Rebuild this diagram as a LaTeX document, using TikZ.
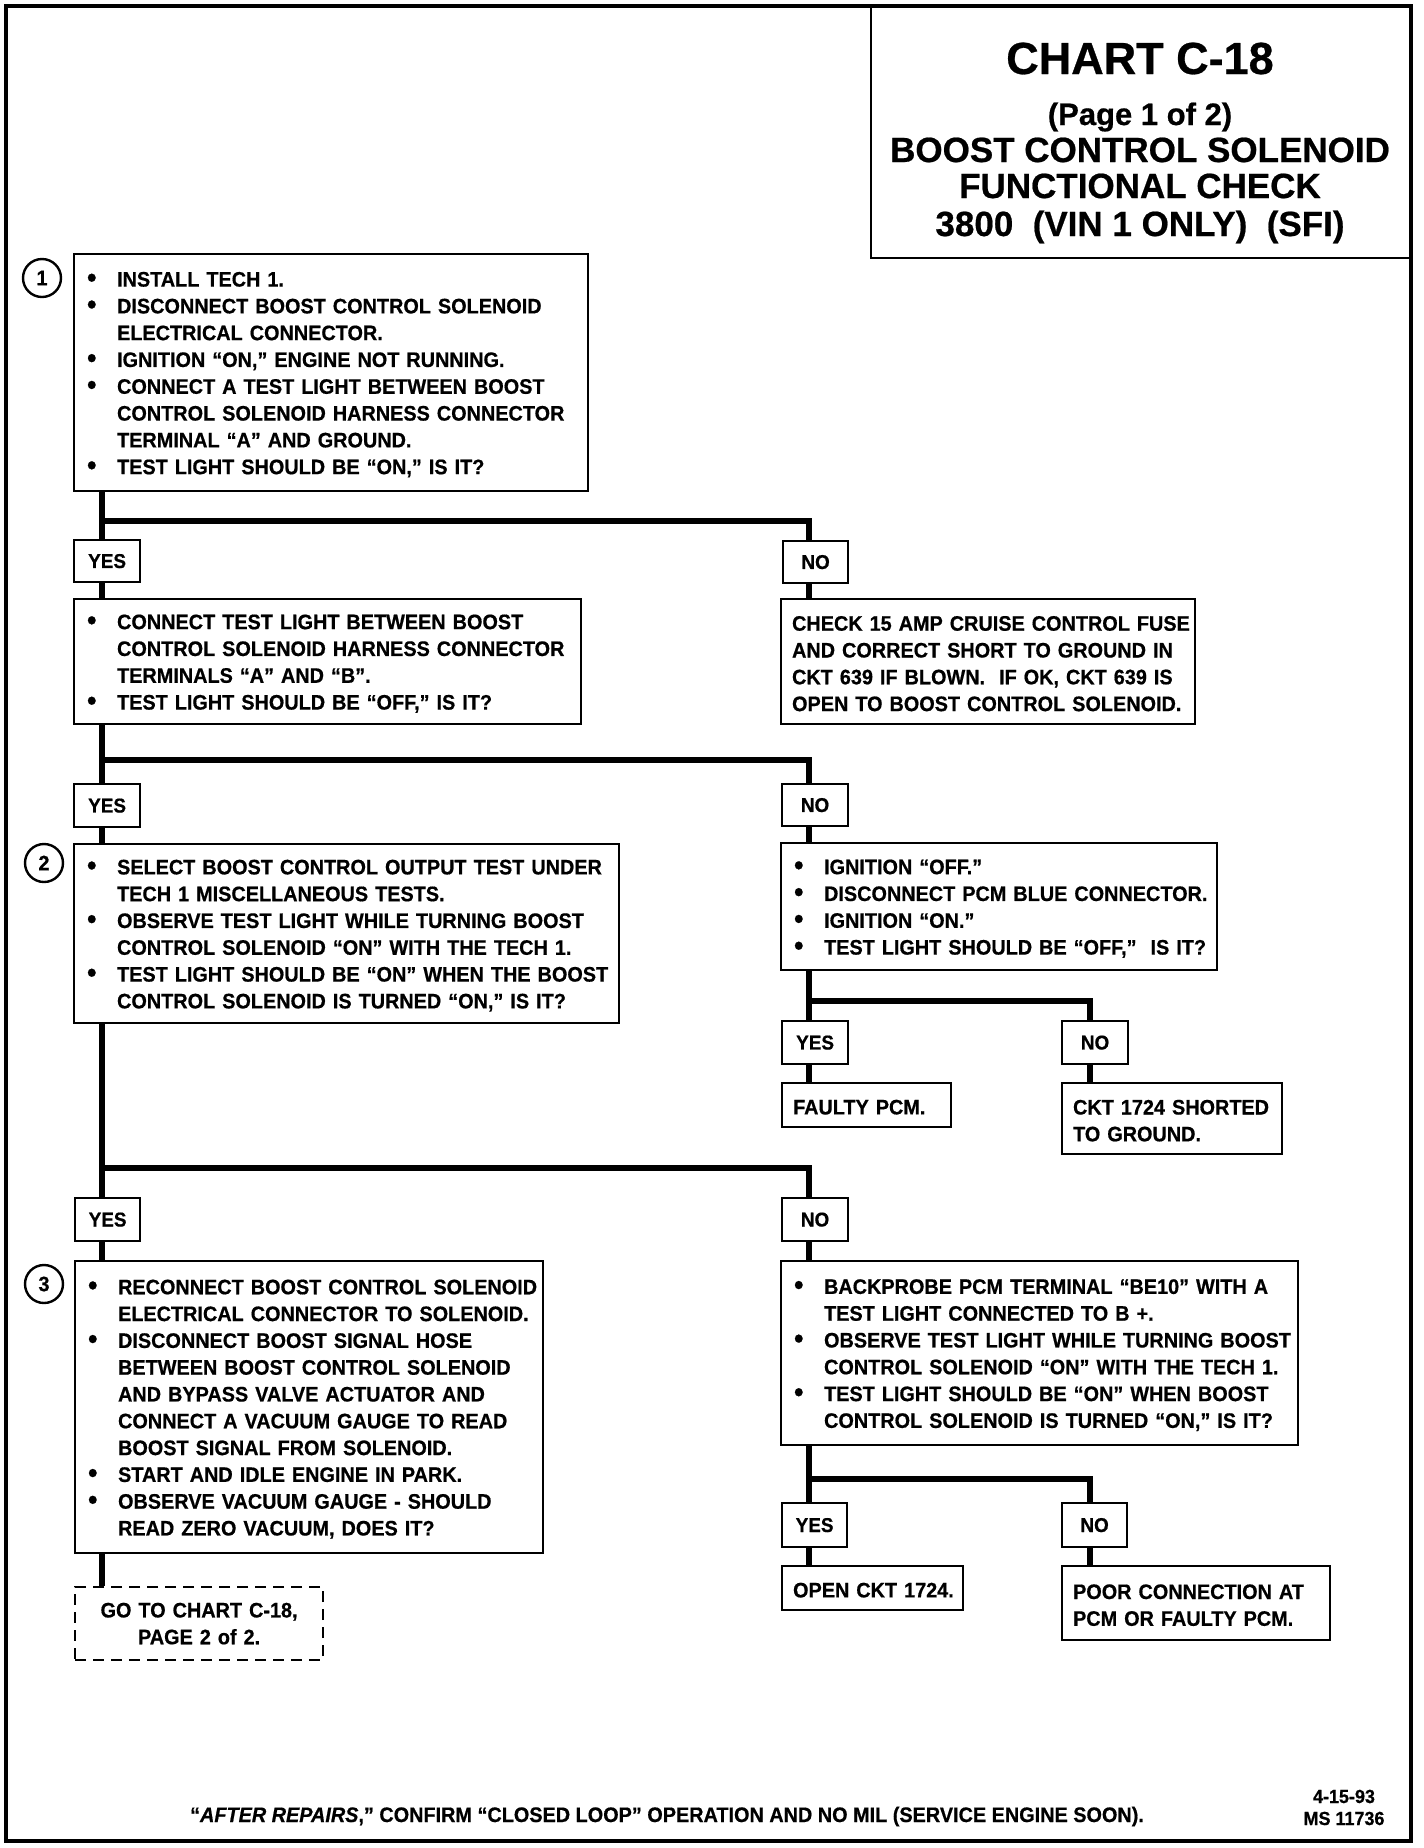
\documentclass[tikz,border=0pt]{standalone}
\usepackage{fontspec}
\setmainfont{Liberation Sans}[FakeStretch=0.945, BoldFeatures={FakeBold=0.6}, BoldItalicFeatures={FakeBold=0.6}]
\newfontfamily\titlefam{Liberation Sans}[BoldFeatures={FakeBold=0.6}]
\newcommand{\boxfont}{\fontsize{21}{26.8}\selectfont\bfseries}
\newcommand{\labfont}{\fontsize{20}{24}\selectfont\bfseries}
\hfuzz=200pt
\newcommand{\bdot}{\raisebox{-0.5pt}{\scalebox{1.35}{\textbullet}}}
\newcommand{\bi}[1]{\par\noindent\makebox[31pt][l]{\hspace{1pt}\bdot}\mbox{#1}}
\newcommand{\li}[1]{\par\noindent\hspace*{31pt}\mbox{#1}}
\newcommand{\pl}[1]{\par\noindent\mbox{#1}}
\tikzset{
  txtbox/.style={draw, line width=2.2pt, rectangle, anchor=north west, inner xsep=12pt, inner ysep=0pt, align=left, font=\boxfont, execute at end node={\par\vspace*{8pt}}},
  gobox/.style={draw, line width=2.2pt, rectangle, anchor=north west, inner xsep=12pt, inner ysep=0pt, align=center, font=\boxfont, dash pattern=on 11pt off 7pt},
  labbox/.style={draw, line width=2.2pt, rectangle, anchor=north west, inner sep=0pt, font=\labfont},
  conn/.style={line width=6pt, line join=miter, line cap=butt},
  numcirc/.style={circle, draw, line width=2.4pt, minimum size=38pt, inner sep=0pt, font=\boxfont},
  titletxt/.style={anchor=base, inner sep=0pt},
}
\begin{document}
\begin{tikzpicture}[x=1pt,y=-1pt]
\useasboundingbox (0,0) rectangle (1424,1848);
\fill[white] (0,0) rectangle (1424,1848);
% outer frame
\draw[line width=4pt] (6,6) rectangle (1411,1841);
% title
\node[draw, line width=2.2pt, anchor=north west, minimum width=541pt, minimum height=251pt, inner sep=0pt] (title) at (870,6) {};
\node[titletxt, font=\titlefam\bfseries\fontsize{45}{50}\selectfont] (t1) at (1140,74) {CHART C-18};
\node[titletxt, font=\titlefam\bfseries\fontsize{31}{36}\selectfont] (t2) at (1140,125) {(Page 1 of 2)};
\node[titletxt, font=\titlefam\bfseries\fontsize{35}{40}\selectfont] (t3) at (1140,162) {BOOST CONTROL SOLENOID};
\node[titletxt, font=\titlefam\bfseries\fontsize{35}{40}\selectfont] (t4) at (1140,198) {FUNCTIONAL CHECK};
\node[titletxt, font=\titlefam\bfseries\fontsize{35}{40}\selectfont] (t5) at (1140,236) {3800\ \ (VIN 1 ONLY)\ \ (SFI)};

% step 1
\node[txtbox, minimum width=514pt, minimum height=237pt, text width=490pt] (b1) at (73,253) {%
\bi{INSTALL TECH 1.}
\bi{DISCONNECT BOOST CONTROL SOLENOID}
\li{ELECTRICAL CONNECTOR.}
\bi{IGNITION “ON,” ENGINE NOT RUNNING.}
\bi{CONNECT A TEST LIGHT BETWEEN BOOST}
\li{CONTROL SOLENOID HARNESS CONNECTOR}
\li{TERMINAL “A” AND GROUND.}
\bi{TEST LIGHT SHOULD BE “ON,” IS IT?}};
\node[numcirc] (s1) at (42,278) {1};

\node[labbox, minimum width=66pt, minimum height=42pt] (y1) at (73,539) {YES};
\node[labbox, minimum width=65pt, minimum height=42pt] (n1) at (782,540) {NO};

\node[txtbox, minimum width=507pt, minimum height=125pt, text width=483pt] (b2) at (73,598) {%
\bi{CONNECT TEST LIGHT BETWEEN BOOST}
\li{CONTROL SOLENOID HARNESS CONNECTOR}
\li{TERMINALS “A” AND “B”.}
\bi{TEST LIGHT SHOULD BE “OFF,” IS IT?}};
\node[txtbox, minimum width=414pt, minimum height=125pt, text width=392pt, inner xsep=11pt] (c1) at (780,598) {%
\pl{CHECK 15 AMP CRUISE CONTROL FUSE}
\pl{AND CORRECT SHORT TO GROUND IN}
\pl{CKT 639 IF BLOWN.\ \ IF OK, CKT 639 IS}
\pl{OPEN TO BOOST CONTROL SOLENOID.}};

\node[labbox, minimum width=66pt, minimum height=43pt] (y2) at (73,783) {YES};
\node[labbox, minimum width=66pt, minimum height=42pt] (n2) at (781,783) {NO};

% step 2
\node[txtbox, minimum width=545pt, minimum height=179pt, text width=521pt] (b3) at (73,843) {%
\bi{SELECT BOOST CONTROL OUTPUT TEST UNDER}
\li{TECH 1 MISCELLANEOUS TESTS.}
\bi{OBSERVE TEST LIGHT WHILE TURNING BOOST}
\li{CONTROL SOLENOID “ON” WITH THE TECH 1.}
\bi{TEST LIGHT SHOULD BE “ON” WHEN THE BOOST}
\li{CONTROL SOLENOID IS TURNED “ON,” IS IT?}};
\node[numcirc] (s2) at (44,863) {2};

\node[txtbox, minimum width=436pt, minimum height=127pt, text width=412pt] (c2) at (780,842) {%
\bi{IGNITION “OFF.”}
\bi{DISCONNECT PCM BLUE CONNECTOR.}
\bi{IGNITION “ON.”}
\bi{TEST LIGHT SHOULD BE “OFF,”\ \ IS IT?}};

\node[labbox, minimum width=66pt, minimum height=43pt] (y4) at (781,1020) {YES};
\node[labbox, minimum width=66pt, minimum height=43pt] (n4) at (1061,1020) {NO};
\node[txtbox, minimum width=169pt, minimum height=44pt, text width=147pt, inner xsep=11pt] (f1) at (781,1082) {\pl{FAULTY PCM.}};
\node[txtbox, minimum width=220pt, minimum height=71pt, text width=198pt, inner xsep=11pt] (f2) at (1061,1082) {\pl{CKT 1724 SHORTED}\pl{TO GROUND.}};

\node[labbox, minimum width=65pt, minimum height=43pt] (y3) at (74,1197) {YES};
\node[labbox, minimum width=66pt, minimum height=43pt] (n3) at (781,1197) {NO};

% step 3
\node[txtbox, minimum width=468pt, minimum height=292pt, text width=444pt] (b4) at (74,1260) {%
\bi{RECONNECT BOOST CONTROL SOLENOID}
\li{ELECTRICAL CONNECTOR TO SOLENOID.}
\bi{DISCONNECT BOOST SIGNAL HOSE}
\li{BETWEEN BOOST CONTROL SOLENOID}
\li{AND BYPASS VALVE ACTUATOR AND}
\li{CONNECT A VACUUM GAUGE TO READ}
\li{BOOST SIGNAL FROM SOLENOID.}
\bi{START AND IDLE ENGINE IN PARK.}
\bi{OBSERVE VACUUM GAUGE - SHOULD}
\li{READ ZERO VACUUM, DOES IT?}};
\node[numcirc] (s3) at (44,1284) {3};

\node[txtbox, minimum width=517pt, minimum height=184pt, text width=493pt] (c3) at (780,1260) {%
\bi{BACKPROBE PCM TERMINAL “BE10” WITH A}
\li{TEST LIGHT CONNECTED TO B +.}
\bi{OBSERVE TEST LIGHT WHILE TURNING BOOST}
\li{CONTROL SOLENOID “ON” WITH THE TECH 1.}
\bi{TEST LIGHT SHOULD BE “ON” WHEN BOOST}
\li{CONTROL SOLENOID IS TURNED “ON,” IS IT?}};

\node[labbox, minimum width=65pt, minimum height=44pt] (y5) at (781,1502) {YES};
\node[labbox, minimum width=65pt, minimum height=44pt] (n5) at (1061,1502) {NO};
\node[txtbox, minimum width=181pt, minimum height=44pt, text width=159pt, inner xsep=11pt] (f3) at (781,1565) {\pl{OPEN CKT 1724.}};
\node[txtbox, minimum width=268pt, minimum height=74pt, text width=246pt, inner xsep=11pt] (f4) at (1061,1565) {\pl{POOR CONNECTION AT}\pl{PCM OR FAULTY PCM.}};

\node[gobox, minimum width=248pt, minimum height=73pt, text width=224pt] (d1) at (74,1586) {GO TO CHART C-18,\\ PAGE 2 of 2.};

% junction coordinates
\coordinate (j1) at (102,521);
\coordinate (k1) at (809,521);
\coordinate (j2) at (102,760);
\coordinate (k2) at (809,760);
\coordinate (j3) at (102,1168);
\coordinate (k3) at (809,1168);
\coordinate (p1) at (809,1001);
\coordinate (q1) at (1090,1001);
\coordinate (p2) at (809,1479);
\coordinate (q2) at (1090,1479);

% connectors
\draw[conn] (b1.south -| j1) -- (y1.north -| j1);
\draw[conn] (j1) -- (k1) -- (n1.north -| k1);
\draw[conn] (y1.south -| j1) -- (b2.north -| j1);
\draw[conn] (n1.south -| k1) -- (c1.north -| k1);

\draw[conn] (b2.south -| j2) -- (y2.north -| j2);
\draw[conn] (j2) -- (k2) -- (n2.north -| k2);
\draw[conn] (y2.south -| j2) -- (b3.north -| j2);
\draw[conn] (n2.south -| k2) -- (c2.north -| k2);

\draw[conn] (c2.south -| p1) -- (y4.north -| p1);
\draw[conn] (p1) -- (q1) -- (n4.north -| q1);
\draw[conn] (y4.south -| p1) -- (f1.north -| p1);
\draw[conn] (n4.south -| q1) -- (f2.north -| q1);

\draw[conn] (b3.south -| j3) -- (y3.north -| j3);
\draw[conn] (j3) -- (k3) -- (n3.north -| k3);
\draw[conn] (y3.south -| j3) -- (b4.north -| j3);
\draw[conn] (n3.south -| k3) -- (c3.north -| k3);

\draw[conn] (c3.south -| p2) -- (y5.north -| p2);
\draw[conn] (p2) -- (q2) -- (n5.north -| q2);
\draw[conn] (y5.south -| p2) -- (f3.north -| p2);
\draw[conn] (n5.south -| q2) -- (f4.north -| q2);

\draw[conn] (b4.south -| j3) -- (d1.north -| j3);

% footer
\node[anchor=base, inner sep=0pt, font=\fontsize{21}{24}\selectfont\bfseries] (foot) at (667,1822) {“\textit{AFTER REPAIRS},” CONFIRM “CLOSED LOOP” OPERATION AND NO MIL (SERVICE ENGINE SOON).};
\node[anchor=base, inner sep=0pt, font=\fontsize{19}{22}\selectfont\bfseries] (date1) at (1344,1803) {4-15-93};
\node[anchor=base, inner sep=0pt, font=\fontsize{19}{22}\selectfont\bfseries] (date2) at (1344,1825) {MS 11736};
\end{tikzpicture}
\end{document}
